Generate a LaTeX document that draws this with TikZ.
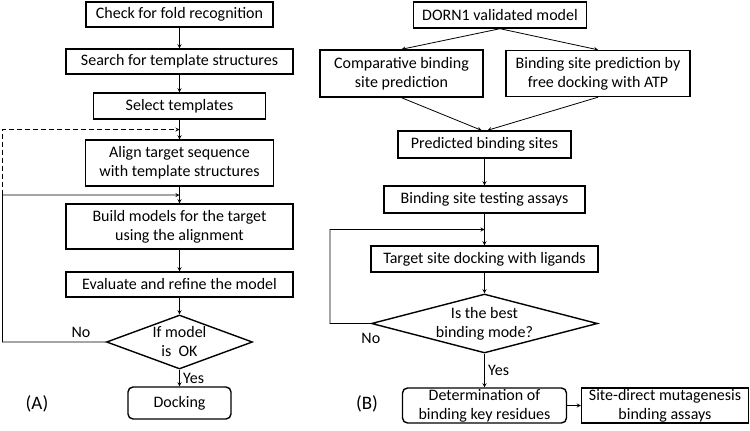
\documentclass[tikz,border=0pt]{standalone}
\usepackage{fontspec}
\setmainfont{Carlito}
\usetikzlibrary{positioning, shapes.geometric}
\usetikzlibrary{calc}
\tikzstyle{startstop} = [rectangle, rounded corners=5pt, line width=1.4pt, align=center, draw=black]
\tikzstyle{process} = [rectangle, minimum height=25pt, line width=1.4pt, align=center, draw=black]
\tikzstyle{decision} = [diamond, inner sep=0pt, line width=1.4pt, align=center, draw=black]
\tikzstyle{arrow} = [line width=0.8pt,->,>=stealth]
\tikzstyle{every node}=[font=\fontsize{16}{19}\selectfont]

\begin{document}
\begin{tikzpicture}[x=1pt, y=-1pt]
			\useasboundingbox (0,0) rectangle (750,431);
			%(A) homology modelling
			\node (chk) [process, minimum width=187pt] at (179.5,14.5) {Check for fold recognition};
			\node (srch) [process, minimum width=227pt, below of=chk, node distance=47pt] {Search for template structures};
			\node (sel) [process, minimum width=172pt, minimum height=26pt, below of=srch, node distance=44.5pt] {Select templates};
			\node (aln) [process, minimum width=188pt, minimum height=46pt, below of=sel, node distance=57pt] {Align target sequence\\with template structures};
			\node (bld) [process, minimum width=227pt, minimum height=45pt, below of=aln, node distance=63.5pt] {Build models for the target\\using the alignment};
			\node (evl) [process, minimum width=227pt, below of=bld, node distance=58pt] {Evaluate and refine the model};
			\node (dec1) [decision, aspect=2.7, minimum width=146pt, minimum height=54pt, below of=evl, node distance=57.5pt] {If model\\is\ \ OK};
			\node (dock) [startstop, minimum width=103pt, minimum height=32pt, below of=dec1, node distance=61pt] {Docking};
			\node (noA) [above left=1pt and 12pt of dec1.west] {No};
			\node (labA) [font=\fontsize{19}{22}\selectfont] at (37,404) {(A)};
			
			\coordinate (dashA) at ($(sel.south)!0.5!(aln.north)$);
			\coordinate (loopA) at ($(aln.south)!0.5!(bld.north)$);
			\coordinate (leftA) at (2.5,195);
			
			%(B) binding site
			\node (dorn) [process, minimum width=173pt, minimum height=26pt] at (500,15) {DORN1 validated model};
			\node (cmp) [process, minimum width=163pt, minimum height=47pt] at (401.5,73.5) {Comparative binding\\site prediction};
			\node (free) [process, minimum width=184pt, minimum height=46pt, right of=cmp, node distance=196.5pt] {Binding site prediction by\\free docking with ATP};
			\node (pred) [process, minimum width=173pt, minimum height=27pt] at (484.5,144.5) {Predicted binding sites};
			\node (test) [process, minimum width=201pt, minimum height=27pt, below of=pred, node distance=55pt] {Binding site testing assays};
			\node (tgt) [process, minimum width=227pt, minimum height=26pt, below of=test, node distance=59.5pt] {Target site docking with ligands};
			\node (dec2) [decision, aspect=3.83, minimum width=226pt, minimum height=59pt, below of=tgt, node distance=64.5pt] {Is the best\\binding mode?};
			\node (det) [startstop, minimum width=164pt, minimum height=35pt, inner ysep=1pt, below of=dec2, node distance=82pt] {Determination of\\binding key residues};
			\node (mut) [process, minimum width=167pt, minimum height=35pt, inner ysep=1pt, right of=det, node distance=180.5pt] {Site-direct mutagenesis\\binding assays};
			\node (noB) [below=6pt of dec2.west] {No};
			\node (labB) [font=\fontsize{19}{22}\selectfont] at (367,404) {(B)};
			
			\coordinate (loopB) at ($(test.south)!0.5!(tgt.north)$);
			\coordinate (leftB) at (330,229.5);
			
			%connectors (A)
			\draw [arrow](chk) -- (srch);
			\draw [arrow](srch) -- (sel);
			\draw [arrow](sel) -- (aln);
			\draw [arrow](aln) -- (bld);
			\draw [arrow](bld) -- (evl);
			\draw [arrow](evl) -- (dec1);
			\draw [arrow](dec1) -- node[right] {Yes} (dock);
			\draw [arrow](dec1.west) -| (leftA) -- (loopA);
			\draw [arrow, dash pattern=on 5pt off 3pt](leftA) |- (dashA);
			
			%connectors (B)
			\draw [arrow](dorn.south) -- (cmp.north);
			\draw [arrow](dorn.south) -- (free.north);
			\draw [arrow](cmp.south) -- ([xshift=-3pt]pred.north);
			\draw [arrow](free.south) -- ([xshift=3pt]pred.north);
			\draw [arrow](pred) -- (test);
			\draw [arrow](test) -- (tgt);
			\draw [arrow](tgt) -- (dec2);
			\draw [arrow](dec2) -- node[right] {Yes} (det);
			\draw [arrow](det) -- (mut);
			\draw [arrow](dec2.west) -| (leftB) -- (loopB);
		\end{tikzpicture}
\end{document}
